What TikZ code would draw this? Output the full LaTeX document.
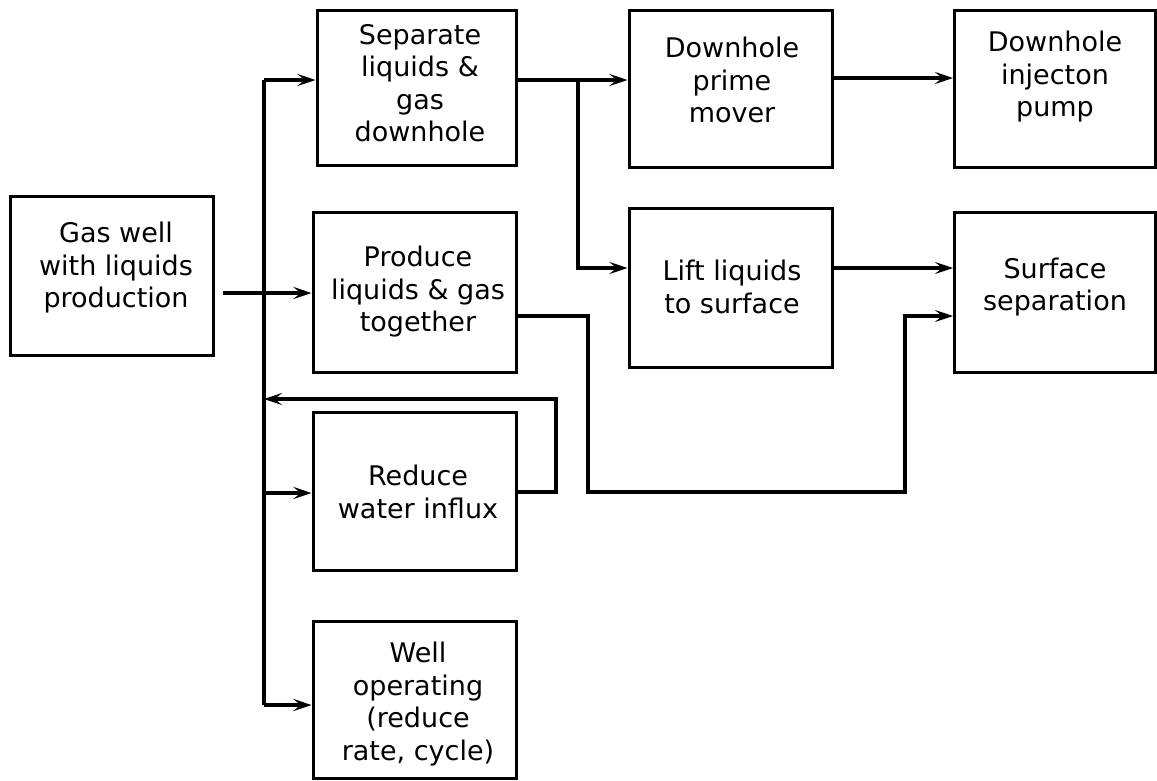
\documentclass[tikz,border=0pt]{standalone}
\usepackage{fontspec}
\setmainfont{DejaVu Sans}
\usetikzlibrary{arrows.meta}
\begin{document}
\begin{tikzpicture}[x=1pt,y=-1pt,
  box/.style={draw,line width=3pt,minimum width=#1,inner sep=0pt},
  txt/.style={align=center,font=\fontsize{27}{32.5}\selectfont,inner sep=0pt},
  conn/.style={line width=4pt},
  arr/.style={line width=4pt,-{Stealth[length=18pt,width=12pt,inset=7pt]}}]
\useasboundingbox (0,0) rectangle (1157,780);
% boxes
\node[box=203pt,minimum height=159pt] (gas) at (111.5,275.5) {};
\node[box=199pt,minimum height=155pt] (sep) at (416.5,87.5) {};
\node[box=203pt,minimum height=160pt] (prod) at (414.5,292) {};
\node[box=203pt,minimum height=158pt] (red) at (414.5,491) {};
\node[box=203pt,minimum height=157pt] (op) at (414.5,699.5) {};
\node[box=203pt,minimum height=157pt] (prime) at (730.5,88.5) {};
\node[box=203pt,minimum height=159pt] (lift) at (730.5,287.5) {};
\node[box=201pt,minimum height=157pt] (inj) at (1055,88.5) {};
\node[box=201pt,minimum height=160pt] (surf) at (1055,292) {};
% texts
\node[txt] at (116,268) {Gas well\\with liquids\\production};
\node[txt] at (420,83) {Separate\\liquids \&\\gas\\downhole};
\node[txt] at (418,292) {Produce\\liquids \& gas\\together};
\node[txt] at (418,492) {Reduce\\water influx};
\node[txt] at (418,704) {Well\\operating\\(reduce\\rate, cycle)};
\node[txt] at (732,80) {Downhole\\prime\\mover};
\node[txt] at (732,287) {Lift liquids\\to surface};
\node[txt] at (1055,77) {Downhole\\injecton\\pump};
\node[txt] at (1055,287) {Surface\\separation};
% connector points
\coordinate (gy) at (0,293);
\coordinate (bt) at (264,80);
\coordinate (bb) at (264,705);
\coordinate (fb) at (264,399);
\coordinate (rr) at (556,399);
\coordinate (sb) at (578,80);
\coordinate (pj) at (588,316);
\coordinate (pl) at (905,492);
\draw[conn] (bt) -- (bb);
\draw[arr] ([xshift=8pt]gas.east |- gy) -- (prod.west |- gy);
\draw[arr] (bt) -- (bt -| sep.west);
\draw[arr] (264,493) -- (red.west |- 0,493);
\draw[arr] (bb) -- (bb -| op.west);
\draw[arr] (red.east |- 0,492) -| (rr) -- (fb);
\draw[arr] (sep.east |- sb) -- (sb -| prime.west);
\draw[arr] (sb) |- (lift.west |- 0,268);
\draw[arr] (prime.east |- 0,78) -- (inj.west |- 0,78);
\draw[arr] (lift.east |- 0,268) -- (surf.west |- 0,268);
\draw[arr] (prod.east |- pj) -- (pj) |- (pl) |- (surf.west |- 0,316);
\end{tikzpicture}
\end{document}
